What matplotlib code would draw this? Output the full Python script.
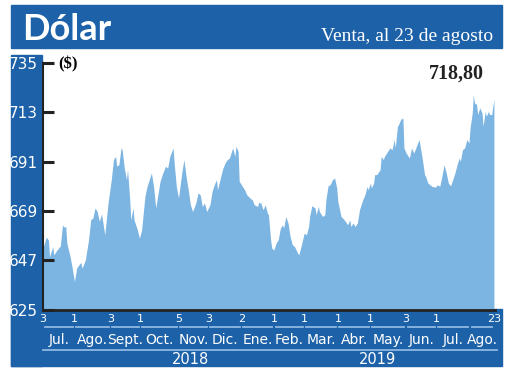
import pandas as pd
import matplotlib
matplotlib.use("Agg")
import matplotlib.pyplot as plt
import matplotlib.transforms as mtransforms
from matplotlib.patches import Rectangle

# datos: dias desde el 3 de julio de 2018 y valor del dolar
inicio = pd.Timestamp("2018-07-03")
dias = [0, 3, 5, 6, 9, 10, 13, 16, 18, 19, 21, 22, 25, 27, 29, 31, 33, 35, 36, 39,
        42, 44, 46, 48, 50, 52, 54, 57, 60, 63, 65, 67, 68, 70, 72, 73, 75, 77, 78, 80,
        81, 83, 84, 87, 89, 91, 94, 96, 98, 100, 102, 104, 106, 108, 110, 113, 115, 117, 120, 121,
        123, 125, 128, 130, 132, 134, 136, 138, 141, 143, 145, 147, 149, 151, 154, 156, 158, 160, 161, 164,
        166, 168, 170, 172, 175, 177, 178, 180, 181, 184, 186, 188, 191, 193, 195, 198, 199, 201, 203, 205,
        207, 208, 210, 211, 213, 215, 217, 219, 221, 222, 224, 226, 228, 230, 232, 235, 236, 238, 241, 243,
        245, 246, 248, 251, 252, 254, 255, 258, 260, 261, 263, 265, 267, 269, 271, 272, 275, 277, 279, 281,
        283, 284, 286, 288, 290, 292, 295, 297, 299, 300, 302, 303, 305, 306, 308, 311, 312, 314, 315, 318,
        320, 322, 324, 325, 327, 328, 330, 332, 333, 335, 336, 338, 340, 342, 344, 345, 347, 348, 350, 352,
        353, 355, 357, 359, 362, 364, 366, 368, 370, 372, 374, 376, 378, 380, 382, 384, 385, 387, 389, 391,
        393, 394, 396, 397, 398, 400, 401, 403, 405, 406, 408, 409, 411, 412, 414, 415, 416]
dolar = [652.4, 657.3, 656.0, 648.6, 653.0, 649.4, 651.6, 653.4, 662.8, 661.8, 662.0, 654.6, 648.6, 643.4, 637.4, 643.4, 644.9, 646.0, 643.4, 647.0,
         656.0, 665.0, 665.8, 670.3, 668.7, 664.3, 667.7, 658.3, 672.5, 682.9, 691.9, 693.3, 689.0, 689.6, 697.1, 696.3, 688.1, 682.9, 687.4, 674.0,
         665.0, 670.3, 665.0, 660.6, 656.8, 660.6, 675.4, 679.9, 682.9, 685.9, 679.9, 670.3, 676.2, 682.2, 685.2, 688.9, 688.1, 693.3, 697.1, 690.4,
         679.9, 674.7, 685.9, 691.9, 684.4, 678.4, 671.7, 668.7, 672.5, 677.0, 676.2, 671.0, 672.5, 668.7, 671.7, 677.7, 680.7, 682.9, 678.4, 684.4,
         688.1, 690.4, 691.9, 692.6, 697.1, 693.3, 697.8, 695.6, 682.2, 679.9, 678.4, 676.2, 674.7, 674.0, 671.7, 671.0, 672.8, 672.5, 669.5, 671.7,
         668.0, 667.3, 656.1, 652.4, 651.6, 654.6, 656.1, 661.3, 662.8, 661.3, 666.5, 663.6, 657.6, 653.9, 653.1, 650.1, 649.4, 653.1, 659.1, 658.3,
         662.0, 666.5, 671.3, 670.3, 667.3, 671.0, 668.7, 666.5, 667.3, 674.0, 680.2, 680.7, 682.9, 683.7, 679.2, 673.2, 666.5, 665.5, 664.3, 662.8,
         665.0, 662.0, 663.6, 662.0, 663.6, 669.5, 674.0, 676.2, 679.9, 678.4, 681.4, 679.2, 681.4, 685.2, 685.2, 687.4, 693.3, 691.9, 693.3, 695.6,
         697.1, 696.3, 700.8, 697.1, 706.8, 707.5, 709.8, 710.5, 697.1, 694.8, 694.1, 692.6, 697.1, 694.8, 697.1, 698.6, 700.8, 697.8, 691.9, 685.2,
         684.4, 681.4, 680.7, 679.9, 679.6, 680.7, 679.9, 684.4, 689.6, 685.9, 681.4, 680.2, 682.9, 685.9, 689.6, 692.6, 691.1, 696.3, 697.1, 700.8,
         699.3, 706.0, 712.7, 720.9, 717.2, 716.5, 712.0, 715.0, 712.7, 706.8, 713.4, 711.2, 713.4, 712.0, 712.0, 715.7, 718.8]

# etiquetas del eje x
fechas_ticks = ["2018-07-03", "2018-08-01", "2018-09-03", "2018-10-01", "2018-11-05", "2018-12-03", "2019-01-02",
                "2019-02-01", "2019-03-01", "2019-04-01", "2019-05-01", "2019-06-03", "2019-07-01", "2019-08-23"]
etiquetas_dia = ["3", "1", "3", "1", "5", "3", "2", "1", "1", "1", "1", "3", "1", "23"]
limites_mes = ["2018-07-03", "2018-08-01", "2018-09-03", "2018-10-01", "2018-11-05", "2018-12-03", "2019-01-02",
               "2019-02-01", "2019-03-01", "2019-04-01", "2019-05-01", "2019-06-03", "2019-07-01", "2019-08-01", "2019-08-23"]
meses = ["Jul.", "Ago.", "Sept.", "Oct.", "Nov.", "Dic.", "Ene.", "Feb.", "Mar.", "Abr.", "May.", "Jun.", "Jul.", "Ago."]
anios = ["2018", "2019"]
anio_inicio = ["2018-07-03", "2019-01-02"]
anio_fin = ["2018-12-31", "2019-08-26"]
anio_pos = ["2018-11-16", "2019-05-08"]
yticks = [625, 647, 669, 691, 713, 735]

azul = "#1d62a8"
celeste = "#7cb4e2"
linea = "#8fb8e2"
negro = "#222222"

fechas = inicio + pd.to_timedelta(dias, unit="D")

plt.rcParams['font.family'] = ['Liberation Sans Narrow', 'DejaVu Sans']

fig = plt.figure(figsize=(5.2, 3.9), dpi=100)
W, H = 520, 390

# bandas azules (detras de los ejes)
fig.patches.append(Rectangle((11 / W, 1 - 48 / H), 491 / W, 43 / H, color=azul, transform=fig.transFigure, zorder=-1))
fig.patches.append(Rectangle((11 / W, 1 - 366 / H), 31 / W, 311 / H, color=azul, transform=fig.transFigure, zorder=-1))
fig.patches.append(Rectangle((11 / W, 1 - 366 / H), 491 / W, 57 / H, color=azul, transform=fig.transFigure, zorder=-1))

fig.text(22 / W, 1 - 40 / H, "Dólar", color="white", fontsize=26, fontweight="bold", family="Lato", va="baseline")
fig.text(493 / W, 1 - 41 / H, "Venta, al 23 de agosto", color="white", fontsize=14, family="Liberation Serif",
         ha="right", va="baseline")

ax = fig.add_axes([43 / W, 1 - 309.5 / H, 452 / W, 246.5 / H])
ax.patch.set_alpha(0)
ax.fill_between(fechas, dolar, 625, color=celeste, linewidth=0, zorder=0.5)
ax.set_ylim(625, 735)
ax.set_xlim(inicio, pd.Timestamp("2019-08-24"))

ax.set_yticks(yticks)
ax.set_yticklabels([str(v) for v in yticks])
ax.tick_params(axis="y", length=0, labelcolor="white", labelsize=11, pad=3.5)
# marcas del eje y hacia adentro
ytr = ax.get_yaxis_transform()
for v in yticks:
    ax.plot([0, 0.024], [v, v], color=negro, lw=2.2, solid_capstyle="butt", transform=ytr, clip_on=False, zorder=4)

ax.set_xticks(pd.to_datetime(fechas_ticks))
ax.set_xticklabels(etiquetas_dia)
ax.tick_params(axis="x", length=0, labelcolor="white", labelsize=8, pad=3)

for s in ["top", "right"]:
    ax.spines[s].set_visible(False)
ax.spines["left"].set_linewidth(1.5)
ax.spines["bottom"].set_linewidth(2)
ax.spines["left"].set_color(negro)
ax.spines["bottom"].set_color(negro)

tr = mtransforms.blended_transform_factory(ax.transData, fig.transFigure)
lim = pd.to_datetime(limites_mes)
hueco = pd.Timedelta(days=1.5)
for i, mes in enumerate(meses):
    a, b = lim[i], lim[i + 1]
    ax.plot([a + hueco, b - hueco], [1 - 327 / H] * 2, color=linea, lw=1.3, transform=tr, clip_on=False)
    ax.text(a + (b - a) / 2, 1 - 340 / H, mes, color="white", fontsize=10, ha="center", va="center",
            transform=tr)

for i, anio in enumerate(anios):
    ax.plot([pd.Timestamp(anio_inicio[i]), pd.Timestamp(anio_fin[i])], [1 - 350 / H] * 2, color=linea, lw=1.3,
            transform=tr, clip_on=False)
    ax.text(pd.Timestamp(anio_pos[i]), 1 - 359 / H, anio, color="white", fontsize=10.5, ha="center", va="center",
            transform=tr)

ax.text(0.055, 0.995, "($)", transform=ax.transAxes, fontsize=12, fontweight="bold", family="Liberation Serif",
        va="center", ha="center")
ax.text(0.914, 0.955, "718,80", transform=ax.transAxes, fontsize=14.5, fontweight="bold", family="Liberation Serif",
        va="center", ha="center", color=negro)

fig.savefig("out.png", dpi=100)
